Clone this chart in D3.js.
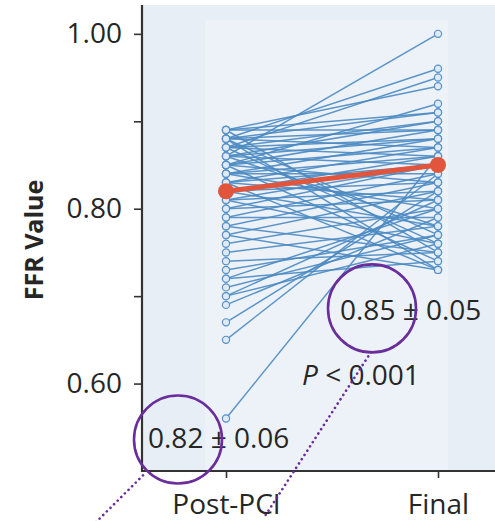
<!DOCTYPE html>
<html>
<head>
<meta charset="utf-8">
<script src="https://cdn.jsdelivr.net/npm/d3@7"></script>
<style>
  html, body { margin: 0; padding: 0; background: #ffffff; }
  svg { display: block; }
  text { font-family: "Open Sans", "Noto Sans", sans-serif; fill: #262626; }
</style>
</head>
<body>
<div id="chart"></div>
<script>
// ---- data ----
const categories = ["Post-PCI", "Final"];
const postValues = [0.86,0.88,0.87,0.89,0.85,0.89,0.88,0.87,0.86,0.89,
                    0.88,0.85,0.84,0.87,0.86,0.83,0.88,0.85,0.84,0.82,
                    0.87,0.56,0.81,0.86,0.83,0.80,0.65,0.84,0.79,0.82,
                    0.85,0.78,0.67,0.81,0.77,0.83,0.70,0.80,0.76,0.84,
                    0.72,0.79,0.69,0.86,0.75,0.82,0.71,0.88,0.73,0.81,
                    0.87,0.70,0.78,0.89,0.74,0.85,0.72,0.83,0.77,0.88];
const finalValues = [1.00,0.96,0.95,0.94,0.92,0.91,0.91,0.90,0.90,0.89,
                     0.89,0.89,0.88,0.88,0.88,0.87,0.87,0.87,0.86,0.86,
                     0.86,0.86,0.85,0.85,0.85,0.85,0.84,0.84,0.84,0.83,
                     0.83,0.83,0.82,0.82,0.82,0.81,0.81,0.81,0.80,0.80,
                     0.80,0.79,0.79,0.78,0.78,0.78,0.77,0.77,0.77,0.76,
                     0.76,0.76,0.75,0.75,0.75,0.74,0.74,0.73,0.73,0.73];
const meanValues = [0.82, 0.85];
const yTickValues = [0.6, 0.7, 0.8, 0.9, 1.0];
const yTickLabels = ["0.60", "", "0.80", "", "1.00"];
const annotations = [
  {text: "0.82 ± 0.06", cat: "Post-PCI", dx: -78, value: 0.526},
  {text: "0.85 ± 0.05", cat: "Final", dx: -98, value: 0.673},
  {text: "P < 0.001", cat: "Final", dx: -136, value: 0.598, italicP: true}
];

// ---- layout ----
const W = 495, H = 521;
const plotLeft = 142, plotRight = 522, plotTop = 5, plotBottom = 471;
const FONT = 28;
const WEIGHT = 500;

const svg = d3.select("#chart").append("svg").attr("width", W).attr("height", H);

const x = d3.scalePoint().domain(categories).range([226, 438]);
const y = d3.scaleLinear().domain([0.50, 1.033]).range([plotBottom, plotTop]);

// background panel
svg.append("rect").attr("x", plotLeft).attr("y", plotTop)
  .attr("width", plotRight - plotLeft).attr("height", plotBottom - plotTop)
  .attr("fill", "#e8eef6");
svg.append("rect").attr("x", 205).attr("y", 20)
  .attr("width", 243).attr("height", plotBottom - 20)
  .attr("fill", "#edf2f8");

// paired lines
const pairs = postValues.map((v, i) => [v, finalValues[i]]);
svg.append("g").selectAll("line").data(pairs).join("line")
  .attr("x1", x(categories[0])).attr("x2", x(categories[1]))
  .attr("y1", d => y(d[0])).attr("y2", d => y(d[1]))
  .attr("stroke", "#4a89c2").attr("stroke-width", 1.5).attr("stroke-opacity", 0.9);

// point markers
const pts = [];
postValues.forEach(v => pts.push({c: categories[0], v}));
finalValues.forEach(v => pts.push({c: categories[1], v}));
svg.append("g").selectAll("circle").data(pts).join("circle")
  .attr("cx", d => x(d.c)).attr("cy", d => y(d.v)).attr("r", 3.6)
  .attr("fill", "#dfeaf5").attr("stroke", "#5591c8").attr("stroke-width", 1.2);

// mean line
svg.append("line")
  .attr("x1", x(categories[0])).attr("x2", x(categories[1]))
  .attr("y1", y(meanValues[0])).attr("y2", y(meanValues[1]))
  .attr("stroke", "#e2553d").attr("stroke-width", 5).attr("stroke-linecap", "round");
svg.append("g").selectAll("circle").data(meanValues).join("circle")
  .attr("cx", (d, i) => x(categories[i])).attr("cy", d => y(d)).attr("r", 8)
  .attr("fill", "#e2553d");

// y axis
const yAxis = d3.axisLeft(y).tickValues(yTickValues)
  .tickFormat((d, i) => yTickLabels[i]).tickSize(8).tickPadding(12).tickSizeOuter(0);
const gy = svg.append("g").attr("transform", `translate(${plotLeft},0)`).call(yAxis);
gy.select(".domain").remove();
gy.selectAll(".tick line").attr("stroke", "#333").attr("stroke-width", 1.6);
gy.selectAll(".tick text").attr("font-size", FONT).attr("font-weight", WEIGHT).attr("fill", "#262626")
  .style("font-family", "'Open Sans', 'Noto Sans', sans-serif");
svg.append("line").attr("x1", plotLeft).attr("x2", plotLeft)
  .attr("y1", plotTop).attr("y2", plotBottom + 1)
  .attr("stroke", "#333").attr("stroke-width", 2.2);

// x axis
const xAxis = d3.axisBottom(x).tickSize(7).tickPadding(16).tickSizeOuter(0);
const gx = svg.append("g").attr("transform", `translate(0,${plotBottom})`).call(xAxis);
gx.select(".domain").remove();
gx.selectAll(".tick line").attr("stroke", "#333").attr("stroke-width", 1.6);
gx.selectAll(".tick text").attr("font-size", FONT).attr("font-weight", WEIGHT).attr("fill", "#262626")
  .style("font-family", "'Open Sans', 'Noto Sans', sans-serif");
svg.append("line").attr("x1", plotLeft - 1).attr("x2", plotRight)
  .attr("y1", plotBottom).attr("y2", plotBottom)
  .attr("stroke", "#333").attr("stroke-width", 2.2);

// y title
svg.append("text")
  .attr("transform", `translate(43,${(plotTop + plotBottom) / 2 + 2}) rotate(-90)`)
  .attr("text-anchor", "middle").attr("font-size", 25).attr("font-weight", "bold")
  .text("FFR Value");

// annotations
annotations.forEach(a => {
  const t = svg.append("text").attr("x", x(a.cat) + a.dx).attr("y", y(a.value))
    .attr("font-size", FONT).attr("font-weight", WEIGHT);
  if (a.italicP) {
    t.append("tspan").attr("font-style", "italic").text("P");
    t.append("tspan").text(a.text.slice(1));
  } else {
    t.text(a.text);
  }
});

// purple highlight circles and dotted leaders
const purple = "#6a2d9c";
const hl = [
  {cx: x("Post-PCI") - 48, cy: y(0.536), x1: x("Post-PCI") - 83, y1: y(0.495), x2: x("Post-PCI") - 133, y2: y(0.438)},
  {cx: x("Final") - 66, cy: y(0.686), x1: x("Final") - 67, y1: y(0.636), x2: x("Final") - 175, y2: y(0.445)}
];
hl.forEach(h => {
  svg.append("circle").attr("cx", h.cx).attr("cy", h.cy).attr("r", 44)
    .attr("fill", "none").attr("stroke", purple).attr("stroke-width", 2.6);
  svg.append("line").attr("x1", h.x1).attr("y1", h.y1).attr("x2", h.x2).attr("y2", h.y2)
    .attr("stroke", purple).attr("stroke-width", 2.6)
    .attr("stroke-dasharray", "0.1,5").attr("stroke-linecap", "round");
});
</script>
</body>
</html>
